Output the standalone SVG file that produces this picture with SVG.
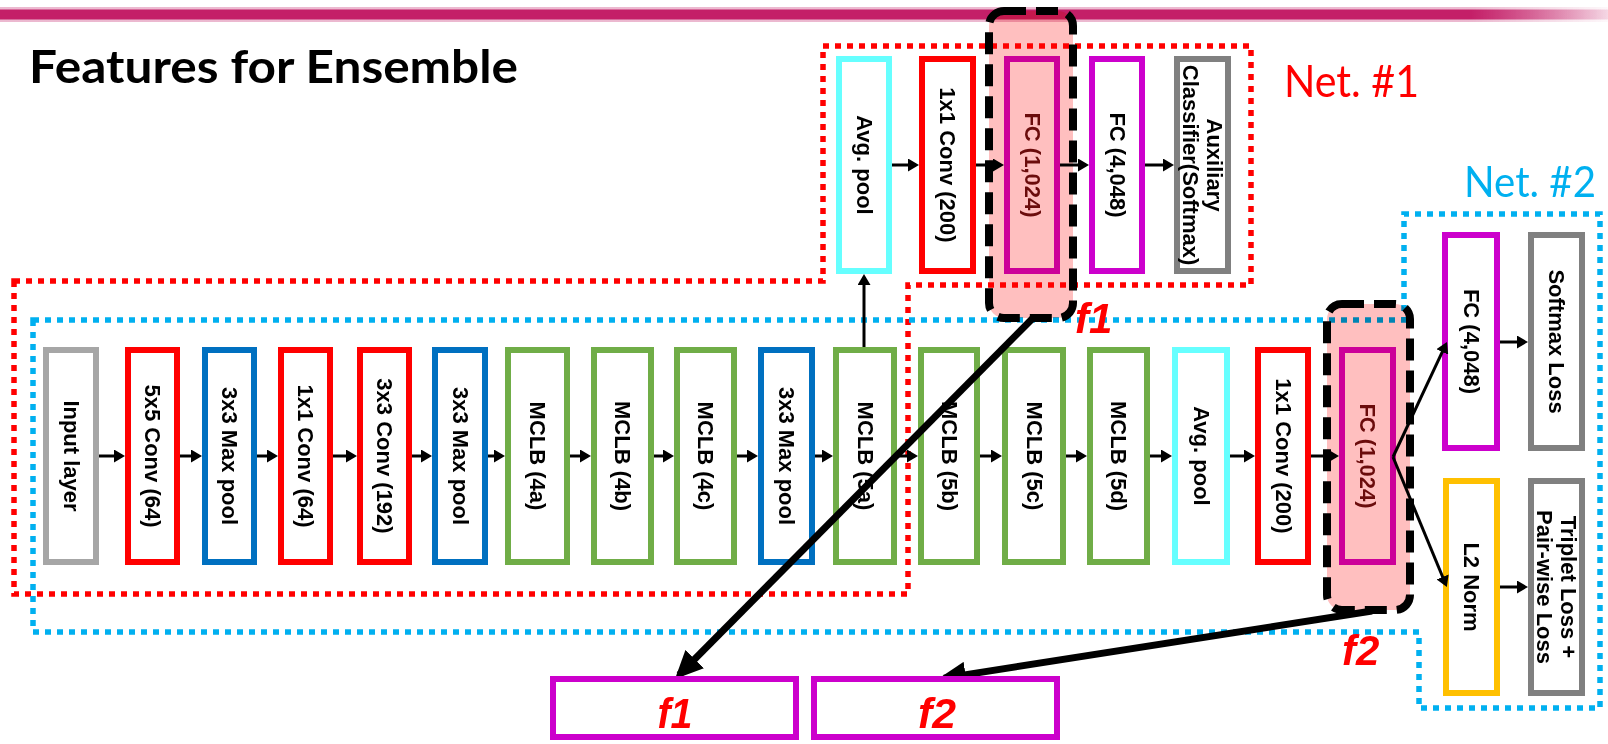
<svg xmlns="http://www.w3.org/2000/svg" width="1608" height="744" viewBox="0 0 1608 744">
  <defs>
    <linearGradient id="barFade" x1="0" y1="0" x2="1608" y2="0" gradientUnits="userSpaceOnUse">
      <stop offset="0" stop-color="#c41f68"/>
      <stop offset="0.915" stop-color="#c41f68"/>
      <stop offset="1" stop-color="#c41f68" stop-opacity="0.15"/>
    </linearGradient>
    <linearGradient id="barHalo" x1="0" y1="0" x2="1608" y2="0" gradientUnits="userSpaceOnUse">
      <stop offset="0" stop-color="#e39abb"/>
      <stop offset="0.915" stop-color="#e39abb"/>
      <stop offset="1" stop-color="#e39abb" stop-opacity="0.1"/>
    </linearGradient>
    <marker id="head" markerUnits="userSpaceOnUse" markerWidth="11" markerHeight="13" refX="8" refY="6.5" orient="auto">
      <path d="M0,0 L11,6.5 L0,13 z" fill="#000"/>
    </marker>
    <marker id="bighead" markerUnits="userSpaceOnUse" markerWidth="28" markerHeight="26" refX="22" refY="13" orient="auto">
      <path d="M0,0 L28,13 L0,26 z" fill="#000"/>
    </marker>
  </defs>
  <style>
    .box { fill: #fff; stroke-width: 6; }
    .gray { stroke: #a6a6a6; }
    .red { stroke: #ff0000; }
    .blue { stroke: #0070c0; }
    .green { stroke: #70ad47; }
    .cyan { stroke: #66ffff; }
    .mag { stroke: #cc00cc; }
    .dgray { stroke: #808080; }
    .yellow { stroke: #ffc000; }
    .lbl { font-family: "Liberation Sans", Arial, sans-serif; font-weight: bold; font-size: 22px; fill: #000; text-anchor: middle; dominant-baseline: central; }
    .flow { stroke: #000; stroke-width: 3; fill: none; marker-end: url(#head); }
    .big { stroke: #000; stroke-width: 7; fill: none; marker-end: url(#bighead); }
    .net1 { fill: none; stroke: #ff0000; stroke-width: 5.5; stroke-dasharray: 6 6; }
    .net2 { fill: none; stroke: #00b0f0; stroke-width: 5.5; stroke-dasharray: 6 6; }
    .sel { fill: #ffbfbf; stroke: none; mix-blend-mode: multiply; }
    .selborder { fill: none; stroke: #000; stroke-width: 8; stroke-dasharray: 22 10; }
    .fx { font-family: "Liberation Sans", Arial, sans-serif; font-weight: bold; font-style: italic; fill: #ff0000; }
    .out { fill: #fff; stroke: #cc00cc; stroke-width: 6; }
  </style>

  <!-- header rule -->
  <rect x="0" y="7" width="1608" height="15" fill="url(#barHalo)" opacity="0.7"/>
  <rect x="0" y="9.5" width="1608" height="10" fill="url(#barFade)"/>

  <text x="29" y="83" font-family="Lato, 'Liberation Sans', sans-serif" font-weight="bold" font-size="46" textLength="489" lengthAdjust="spacingAndGlyphs" fill="#000">Features for Ensemble</text>
  <text x="1284" y="97" font-family="Lato, 'Liberation Sans', sans-serif" font-size="45" textLength="135" lengthAdjust="spacingAndGlyphs" fill="#ff0000">Net. #1</text>
  <text x="1464" y="197" font-family="Lato, 'Liberation Sans', sans-serif" font-size="43" textLength="132" lengthAdjust="spacingAndGlyphs" fill="#00b0f0">Net. #2</text>

  <!-- network outlines -->
  <g id="outlines">
    <path class="net1" d="M14,281 H823 V46 H1251 V285 H908 V594 H14 Z"/>
    <path class="net2" d="M33,320 H1404 V214 H1600 V708 H1419 V632 H33 Z"/>
  </g>

  <!-- main trunk -->
  <g id="node-input"><rect class="box gray" x="46" y="350" width="50" height="212"/><text class="lbl" transform="translate(71,456) rotate(90)">Input layer</text></g>
  <g id="node-conv5x5"><rect class="box red" x="128" y="350" width="49" height="212"/><text class="lbl" transform="translate(152.5,456) rotate(90)">5x5 Conv (64)</text></g>
  <g id="node-pool1"><rect class="box blue" x="205" y="350" width="49" height="212"/><text class="lbl" transform="translate(229.5,456) rotate(90)">3x3 Max pool</text></g>
  <g id="node-conv1x1"><rect class="box red" x="281" y="350" width="49" height="212"/><text class="lbl" transform="translate(305.5,456) rotate(90)">1x1 Conv (64)</text></g>
  <g id="node-conv3x3"><rect class="box red" x="360" y="350" width="49" height="212"/><text class="lbl" transform="translate(384.5,456) rotate(90)">3x3 Conv (192)</text></g>
  <g id="node-pool2"><rect class="box blue" x="435" y="350" width="50" height="212"/><text class="lbl" transform="translate(460,456) rotate(90)">3x3 Max pool</text></g>
  <g id="node-mclb4a"><rect class="box green" x="508" y="350" width="59" height="212"/><text class="lbl" transform="translate(537.5,456) rotate(90)">MCLB (4a)</text></g>
  <g id="node-mclb4b"><rect class="box green" x="594" y="350" width="57" height="212"/><text class="lbl" transform="translate(622.5,456) rotate(90)">MCLB (4b)</text></g>
  <g id="node-mclb4c"><rect class="box green" x="677" y="350" width="57" height="212"/><text class="lbl" transform="translate(705.5,456) rotate(90)">MCLB (4c)</text></g>
  <g id="node-pool3"><rect class="box blue" x="761" y="350" width="51" height="212"/><text class="lbl" transform="translate(786.5,456) rotate(90)">3x3 Max pool</text></g>
  <g id="node-mclb5a"><rect class="box green" x="836" y="350" width="58" height="212"/><text class="lbl" transform="translate(865,456) rotate(90)">MCLB (5a)</text></g>
  <g id="node-mclb5b"><rect class="box green" x="921" y="350" width="56" height="212"/><text class="lbl" transform="translate(949,456) rotate(90)">MCLB (5b)</text></g>
  <g id="node-mclb5c"><rect class="box green" x="1005" y="350" width="58" height="212"/><text class="lbl" transform="translate(1034,456) rotate(90)">MCLB (5c)</text></g>
  <g id="node-mclb5d"><rect class="box green" x="1090" y="350" width="57" height="212"/><text class="lbl" transform="translate(1118.5,456) rotate(90)">MCLB (5d)</text></g>
  <g id="node-avgpool"><rect class="box cyan" x="1175" y="350" width="52" height="212"/><text class="lbl" transform="translate(1201,456) rotate(90)">Avg. pool</text></g>
  <g id="node-conv200"><rect class="box red" x="1258" y="350" width="50" height="212"/><text class="lbl" transform="translate(1283,456) rotate(90)">1x1 Conv (200)</text></g>
  <g id="node-fc1024"><rect class="box mag" x="1342" y="350" width="51" height="212"/><text class="lbl" style="fill:#6b1010" transform="translate(1367.5,456) rotate(90)">FC (1,024)</text></g>

  <!-- auxiliary branch -->
  <g id="node-aux-avgpool"><rect class="box cyan" x="839" y="59" width="50" height="212"/><text class="lbl" transform="translate(864,165) rotate(90)">Avg. pool</text></g>
  <g id="node-aux-conv200"><rect class="box red" x="922" y="59" width="51" height="212"/><text class="lbl" transform="translate(947.5,165) rotate(90)">1x1 Conv (200)</text></g>
  <g id="node-aux-fc1024"><rect class="box mag" x="1007" y="59" width="50" height="212"/><text class="lbl" style="fill:#6b1010" transform="translate(1032,165) rotate(90)">FC (1,024)</text></g>
  <g id="node-aux-fc4048"><rect class="box mag" x="1092" y="59" width="50" height="212"/><text class="lbl" transform="translate(1117,165) rotate(90)">FC (4,048)</text></g>
  <g id="node-aux-classifier"><rect class="box dgray" x="1177" y="59" width="51" height="212"/><text class="lbl" transform="translate(1202.5,165) rotate(90)"><tspan x="0" y="-12">Auxiliary</tspan><tspan x="0" y="12">Classifier(Softmax)</tspan></text></g>

  <!-- loss heads -->
  <g id="node-fc4048"><rect class="box mag" x="1445" y="235" width="52" height="213"/><text class="lbl" transform="translate(1471,341.5) rotate(90)">FC (4,048)</text></g>
  <g id="node-softmax"><rect class="box dgray" x="1531" y="235" width="51" height="213"/><text class="lbl" transform="translate(1556.5,341.5) rotate(90)">Softmax Loss</text></g>
  <g id="node-l2norm"><rect class="box yellow" x="1446" y="481" width="51" height="212"/><text class="lbl" transform="translate(1471.5,587) rotate(90)">L2 Norm</text></g>
  <g id="node-triplet"><rect class="box dgray" x="1531" y="481" width="51" height="212"/><text class="lbl" transform="translate(1556.5,587) rotate(90)"><tspan x="0" y="-12">Triplet Loss +</tspan><tspan x="0" y="12">Pair-wise Loss</tspan></text></g>

  <!-- connectors -->
  <g id="connectors">
    <line class="flow" x1="99" y1="456" x2="122" y2="456"/>
    <line class="flow" x1="180" y1="456" x2="199" y2="456"/>
    <line class="flow" x1="257" y1="456" x2="275" y2="456"/>
    <line class="flow" x1="333" y1="456" x2="354" y2="456"/>
    <line class="flow" x1="412" y1="456" x2="429" y2="456"/>
    <line class="flow" x1="488" y1="456" x2="502" y2="456"/>
    <line class="flow" x1="570" y1="456" x2="588" y2="456"/>
    <line class="flow" x1="654" y1="456" x2="671" y2="456"/>
    <line class="flow" x1="737" y1="456" x2="755" y2="456"/>
    <line class="flow" x1="815" y1="456" x2="830" y2="456"/>
    <line class="flow" x1="897" y1="456" x2="915" y2="456"/>
    <line class="flow" x1="980" y1="456" x2="999" y2="456"/>
    <line class="flow" x1="1066" y1="456" x2="1084" y2="456"/>
    <line class="flow" x1="1150" y1="456" x2="1169" y2="456"/>
    <line class="flow" x1="1230" y1="456" x2="1252" y2="456"/>
    <line class="flow" x1="1311" y1="456" x2="1336" y2="456"/>
    <line class="flow" x1="864" y1="347" x2="864" y2="277"/>
    <line class="flow" x1="892" y1="165" x2="916" y2="165"/>
    <line class="flow" x1="976" y1="165" x2="1001" y2="165"/>
    <line class="flow" x1="1060" y1="165" x2="1086" y2="165"/>
    <line class="flow" x1="1145" y1="165" x2="1171" y2="165"/>
    <line class="flow" x1="1393" y1="457" x2="1445.7" y2="344.7"/>
    <line class="flow" x1="1393" y1="457" x2="1445.7" y2="584.3"/>
    <line class="flow" x1="1500" y1="342" x2="1525" y2="342"/>
    <line class="flow" x1="1500" y1="587" x2="1525" y2="587"/>
  </g>

  <!-- selected feature layers -->
  <g id="select-f1">
    <rect class="sel" x="989" y="11" width="84" height="307" rx="15"/>
    <rect class="selborder" x="989" y="11" width="84" height="307" rx="15"/>
  </g>
  <g id="select-f2">
    <rect class="sel" x="1327" y="304" width="83" height="306" rx="15"/>
    <rect class="selborder" x="1327" y="304" width="83" height="306" rx="15"/>
  </g>

  <g id="feature-links">
    <line class="big" x1="1033" y1="318" x2="679.2" y2="674.7"/>
    <line class="big" x1="1372" y1="611" x2="943.9" y2="678.1"/>
  </g>

  <text class="fx" x="1075" y="333" font-size="42">f1</text>
  <text class="fx" x="1342" y="665" font-size="42">f2</text>

  <g id="node-out-f1">
    <rect class="out" x="553" y="679" width="243" height="58"/>
    <text class="fx" x="675" y="728" font-size="43" text-anchor="middle" textLength="35" lengthAdjust="spacingAndGlyphs">f1</text>
  </g>
  <g id="node-out-f2">
    <rect class="out" x="814" y="679" width="243" height="58"/>
    <text class="fx" x="937" y="728" font-size="43" text-anchor="middle" textLength="38" lengthAdjust="spacingAndGlyphs">f2</text>
  </g>
</svg>
